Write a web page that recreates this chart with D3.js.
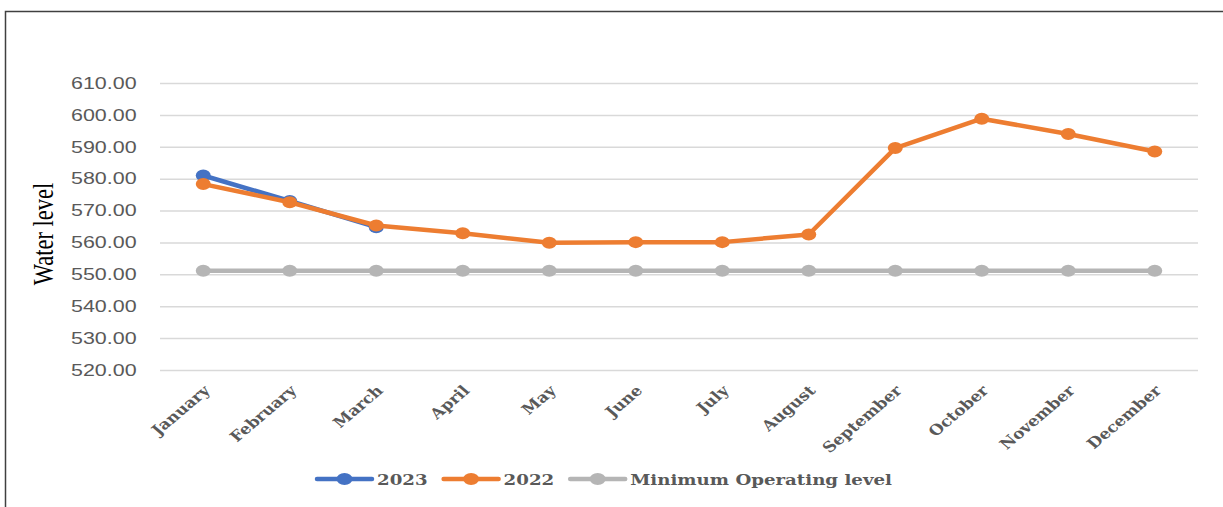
<!DOCTYPE html>
<html>
<head>
<meta charset="utf-8">
<script src="https://cdn.jsdelivr.net/npm/d3@7"></script>
<style>
  body { margin: 0; background: #fff; }
  svg { display: block; }
</style>
</head>
<body>
<div class="svg-container"></div>
<script>
var months = ['January', 'February', 'March', 'April', 'May', 'June', 'July',
	'August', 'September', 'October', 'November', 'December'];
var level2023 = [581.0, 573.0, 564.8];
var level2022 = [578.3, 572.6, 565.3, 562.9, 559.9, 560.1, 560.1, 562.5, 589.6, 598.8, 594.0, 588.5];
var minOperating = [551.1, 551.1, 551.1, 551.1, 551.1, 551.1, 551.1, 551.1, 551.1, 551.1, 551.1, 551.1];
var yTicks = [520, 530, 540, 550, 560, 570, 580, 590, 600, 610];

var seriesList = [
	{ name: '2023', values: level2023, colour: '#4472c4' },
	{ name: '2022', values: level2022, colour: '#ed7d31' },
	{ name: 'Minimum Operating level', values: minOperating, colour: '#b5b5b5' }
];

var width = 1223;
var height = 507;
var stretch = 'scale(1.3,1)';
var greyText = '#595959';
var serifFont = '"DejaVu Serif", "Liberation Serif", serif';

var svg = d3.select('.svg-container')
	.append('svg')
	.attr('width', width)
	.attr('height', height);

// Frame
svg.append('rect')
	.attr('x', 5.5)
	.attr('y', 11.5)
	.attr('width', width + 20)
	.attr('height', height + 20)
	.attr('fill', 'none')
	.attr('stroke', '#404040')
	.attr('stroke-width', 1.5);

// Scales
var xScale = d3.scalePoint()
	.domain(months)
	.range([160, 1198])
	.padding(0.5);

var yScale = d3.scaleLinear()
	.domain([520, 610])
	.range([370, 83]);

// Y axis with gridlines
var yAxis = svg.append('g')
	.attr('transform', 'translate(160,0)')
	.call(d3.axisLeft(yScale)
		.tickValues(yTicks)
		.tickSize(-1038)
		.tickPadding(18)
		.tickFormat(d3.format('.2f')));

yAxis.select('.domain').remove();
yAxis.selectAll('.tick line')
	.attr('stroke', '#d9d9d9')
	.attr('stroke-width', 1.5);
yAxis.selectAll('.tick text')
	.attr('transform', stretch)
	.attr('fill', greyText)
	.style('font-family', '"Liberation Sans", Arial, sans-serif')
	.style('font-size', '16.5px');

// X axis labels
var xAxis = svg.append('g')
	.attr('transform', 'translate(0,370)')
	.call(d3.axisBottom(xScale).tickSize(0));

xAxis.select('.domain').remove();
xAxis.selectAll('.tick text')
	.attr('x', 0)
	.attr('y', 0)
	.attr('dy', '0.35em')
	.attr('text-anchor', 'end')
	.attr('transform', 'translate(3,18) scale(1.18,1) rotate(-45)')
	.attr('fill', greyText)
	.style('font-family', serifFont)
	.style('font-weight', 'bold')
	.style('font-size', '14.5px');

// Y axis title
svg.append('text')
	.attr('transform', 'translate(53,234) ' + stretch + ' rotate(-90)')
	.attr('text-anchor', 'middle')
	.attr('fill', '#000')
	.style('font-family', '"Liberation Serif", "Times New Roman", serif')
	.style('font-size', '22.5px')
	.text('Water level');

// Lines and markers
var line = d3.line()
	.x(function(d, i) { return xScale(months[i]); })
	.y(function(d) { return yScale(d); });

var groups = svg.selectAll('g.series')
	.data(seriesList)
	.enter()
	.append('g')
	.attr('class', 'series');

groups.append('path')
	.attr('d', function(d) { return line(d.values); })
	.attr('fill', 'none')
	.attr('stroke', function(d) { return d.colour; })
	.attr('stroke-width', 4.5)
	.attr('stroke-linejoin', 'round');

groups.selectAll('ellipse')
	.data(function(d) {
		return d.values.map(function(v, i) {
			return { value: v, month: months[i], colour: d.colour };
		});
	})
	.enter()
	.append('ellipse')
	.attr('cx', function(d) { return xScale(d.month); })
	.attr('cy', function(d) { return yScale(d.value); })
	.attr('rx', 7.5)
	.attr('ry', 6)
	.attr('fill', function(d) { return d.colour; });

// Legend
var legendX = 317;
var legendY = 479;
seriesList.forEach(function(s) {
	var item = svg.append('g');
	item.append('line')
		.attr('x1', legendX)
		.attr('x2', legendX + 55)
		.attr('y1', legendY)
		.attr('y2', legendY)
		.attr('stroke', s.colour)
		.attr('stroke-width', 4.5)
		.attr('stroke-linecap', 'round');
	item.append('ellipse')
		.attr('cx', legendX + 27.5)
		.attr('cy', legendY)
		.attr('rx', 8)
		.attr('ry', 6)
		.attr('fill', s.colour);
	var label = item.append('text')
		.attr('transform', 'translate(' + (legendX + 60) + ',' + (legendY + 5.5) + ') ' + stretch)
		.attr('fill', greyText)
		.style('font-family', serifFont)
		.style('font-weight', 'bold')
		.style('font-size', '14px')
		.text(s.name);
	legendX += 60 + label.node().getComputedTextLength() * 1.3 + 16;
});
</script>
</body>
</html>
